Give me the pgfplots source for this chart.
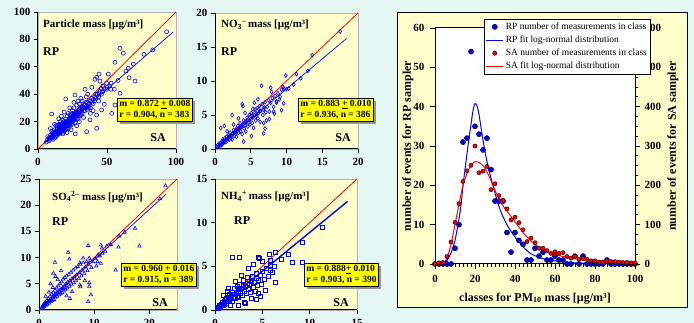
\documentclass[border=0pt]{standalone}
\usepackage{fontspec}
\setmainfont{Liberation Serif}
\usepackage{pgfplots}
\pgfplotsset{compat=1.18}
\definecolor{bgmint}{RGB}{228,247,242}
\definecolor{pyel}{RGB}{255,255,204}
\definecolor{syel}{RGB}{255,255,0}
\definecolor{pblue}{RGB}{0,0,255}
\definecolor{pred}{RGB}{255,0,0}
\definecolor{shad}{RGB}{150,150,150}
\pgfplotsset{
  scat/.style={
    scale only axis, anchor=south west,
    axis lines=left, axis line style={-, line width=1pt, black},
    axis background/.style={fill=pyel, draw=black!30},
    tick align=outside, major tick length=4pt,
    tick style={black, line width=0.8pt},
    tick label style={font=\fontsize{11}{11}\selectfont\bfseries},
    /pgf/number format/assume math mode=true,
    xticklabel style={yshift=-2pt},
  },
  pts/.style={only marks, color=pblue, mark size=2pt, mark options={draw=pblue, line width=0.6pt, fill=none}},
  fitb/.style={pblue, line width=0.7pt},
  fitr/.style={pred, line width=0.8pt},
}
\tikzset{statbox/.style={draw=black, line width=0.6pt, fill=syel,
  preaction={draw=none, fill=shad, transform canvas={xshift=2.5pt, yshift=-2.5pt}},
  align=left, anchor=north west, inner sep=2pt, font=\fontsize{9.5}{11}\selectfont\bfseries},
  ttl/.style={anchor=west, font=\fontsize{11}{11}\selectfont\bfseries, inner sep=0pt},
  big/.style={font=\fontsize{12}{12}\selectfont\bfseries, inner sep=0pt}}
\begin{document}
\begin{tikzpicture}[x=1pt,y=1pt]
\useasboundingbox (0,0) rectangle (694,323);
\fill[bgmint] (0,0) rectangle (694,323);
\clip (0,0) rectangle (694,323);

% ---------- Panel 1: particle mass
\begin{axis}[scat, at={(38pt,174pt)}, width=138pt, height=137pt,
  xmin=0,xmax=100,ymin=0,ymax=100, xtick={0,50,100}, ytick={0,20,...,100}]
\addplot[pts, mark=o] coordinates {
(93.2,85.6)(83.1,72.3)(76.8,69.1)(59.4,73.5)(61.8,69.9)(55.8,63.3)(69.1,62)(65.4,58.9)(63.8,56.9)(70.3,49.6)
(51,54.7)(44.2,54.7)(42.5,52.3)(44.9,49.6)(59.4,40.7)(55.3,43.6)(49.8,43.6)(48,32.6)(34.1,43.6)(26.8,39.4)
(20.1,36.5)(9.9,25.5)(42.5,15.1)(35.3,12.6)(46.1,28.5)(42.5,24.8)(37.7,21.2)(53.4,26)(41.3,50.9)(49.8,48)
(52.9,43.6)(55.8,32.1)(66,52)(58,50)(47,46)(39,45)(36,40)(44,35)(40,28)(27,11)
(6,5)(7,7)(7,9)(8,6)(8,8)(9,7)(9,10)(10,8)(10,11)(10,13)(11,9)(11,12)(12,10)(12,14)(12,8)(13,11)(13,13)(13,17)
(14,12)(14,10)(14,15)(15,13)(15,11)(15,18)(16,14)(16,12)(16,16)(16,20)(17,15)(17,13)(17,18)(18,14)(18,16)(18,21)
(18,11)(19,17)(19,15)(19,20)(20,18)(20,14)(20,22)(20,16)(21,19)(21,17)(21,24)(22,18)(22,20)(22,15)(22,26)(23,21)
(23,19)(23,17)(24,22)(24,20)(24,25)(25,22)(25,18)(25,28)(26,23)(26,21)(26,30)(27,24)(27,22)(27,19)(28,26)(28,23)
(28,32)(29,25)(29,22)(30,27)(30,24)(30,33)(31,28)(31,25)(32,29)(32,26)(32,35)(33,30)(34,28)(34,32)(35,31)(36,29)
(36,34)(37,33)(38,35)(38,30)(40,36)(40,33)(41,38)(42,37)(43,40)(44,38)(45,42)(46,40)(47,42)(48,44)(50,45)(52,46)
(53,48)(24,14)(28,17)(30,20)(33,23)(21,12)(38,26)(35,38)(26,34)(15,22)(12,18)(9,15)(31,37)(29,35)(19,27)(17,24)(23,30)
(9,8)(10,9)(11,10)(11,7)(12,12)(12,11)(13,9)(13,12)(14,13)(14,11)(14,17)(15,14)(15,12)(15,16)(16,15)(16,13)(16,18)
(17,16)(17,14)(17,12)(18,17)(18,15)(18,19)(19,18)(19,16)(19,13)(20,19)(20,17)(20,20)(21,20)(21,18)(21,15)(22,21)
(22,19)(22,17)(23,22)(23,20)(23,25)(24,23)(24,21)(24,18)(25,24)(25,20)(25,26)(26,25)(26,22)(27,26)(27,25)(28,27)
(28,24)(29,28)(29,26)(30,29)(30,26)(31,30)(32,31)(33,28)(33,33)(34,30)(35,34)(36,31)(37,30)(39,37)(39,34)(41,35)
(42,40)(44,41)(46,44)
};
\addplot[fitb] coordinates {(5,4.36)(98,85.46)};
\addplot[fitr] coordinates {(0,0)(100,100)};
\end{axis}

% ---------- Panel 2: NO3
\begin{axis}[scat, at={(215pt,174pt)}, width=143pt, height=136pt,
  xmin=0,xmax=20,ymin=0,ymax=20, xtick={0,5,...,20}, ytick={0,5,...,20}]
\addplot[pts, mark=diamond] coordinates {
(17.5,17.3)(13.6,13.8)(13,11.5)(11.4,11)(9.9,10.8)(9.3,8.7)(9.6,8.9)(10.0,8.8)(10.3,8.9)(9.5,9.1)(6.5,9.3)(7.8,9)
(3.8,6.6)(2.4,5)(0.8,3.1)(1.3,3.4)(5.1,1.9)(6.8,2.3)(7.2,4.2)(9.3,5.7)(9.6,6.7)(8.6,6.8)(4,1.1)(7.9,8.4)(9.1,7.7)
(8.2,5.5)(7,3.0)(3.9,6.3)(5.3,5.9)(11,9.5)(12,10.4)
(0.3,0.3)(0.4,0.6)(0.5,0.4)(0.6,0.8)(0.7,0.5)(0.8,0.9)(0.9,0.6)(1.0,1.1)(1.0,0.7)(1.1,1.4)(1.2,0.9)(1.3,1.2)(1.4,1.6)
(1.5,1.0)(1.5,1.3)(1.6,1.8)(1.7,1.2)(1.8,1.5)(1.9,2.0)(2.0,1.4)(2.0,1.8)(2.1,2.4)(2.2,1.6)(2.3,2.0)(2.4,1.4)(2.5,2.3)
(2.6,2.8)(2.7,1.9)(2.8,2.5)(2.9,2.2)(3.0,3.0)(3.0,1.8)(3.1,2.6)(3.2,3.4)(3.3,2.4)(3.4,2.9)(3.5,3.8)(3.6,2.6)(3.7,3.2)
(3.8,2.2)(3.9,3.6)(4.0,4.2)(4.1,3.0)(4.2,3.5)(4.3,2.6)(4.4,4.0)(4.5,4.6)(4.6,3.3)(4.7,3.9)(4.8,5.0)(4.9,3.6)(5.0,4.4)
(5.1,5.3)(5.2,3.8)(5.3,4.6)(5.4,3.1)(5.5,5.0)(5.6,5.8)(5.7,4.2)(5.8,4.9)(5.9,6.0)(6.0,4.5)(6.1,5.3)(6.2,6.3)(6.3,4.0)
(6.4,5.6)(6.6,6.6)(6.7,5.0)(6.8,5.8)(7.0,6.9)(7.1,5.4)(7.3,6.2)(7.5,7.2)(7.6,5.5)(7.8,6.8)(8.0,7.5)(8.2,6.2)(8.4,7.8)
(8.6,7.0)(8.8,8.2)(9.0,7.3)(5.5,6.8)(4.2,5.3)(3.3,4.5)(6.8,3.8)(7.6,4.4)(1.7,2.6)(2.6,3.6)(8.3,5.2)(6,7.3)
(1.2,1.1)(1.9,1.7)(2.4,2.2)(2.9,2.7)(3.4,3.1)(3.8,3.4)(4.3,3.9)(4.8,4.2)(5.3,4.8)(5.8,5.2)(6.3,5.6)(6.9,6.1)
};
\addplot[fitb] coordinates {(0.3,0.26)(18.4,16.25)};
\addplot[fitr] coordinates {(0,0)(20,20)};
\end{axis}

% ---------- Panel 3: SO4
\begin{axis}[scat, at={(39pt,13pt)}, width=138pt, height=131pt,
  xmin=0,xmax=25,ymin=0,ymax=25, xtick={0,10,20}, ytick={0,5,...,25}]
\addplot[pts, mark=triangle] coordinates {
(22.9,23.7)(21.9,21.2)(17.4,15.6)(14.5,14.1)(18.2,12.2)(14.4,12.0)(11.2,12.4)(8.9,12.3)(9.1,9.9)(13.9,7.6)(5.3,11)
(5.5,9.7)(2.6,7)(9.1,4.5)(9.4,2.9)(8.9,1.6)(5.6,2.2)(7.4,4.8)(10.4,8.4)(12.3,12.2)(11.4,11.8)(2.9,9.1)(9.1,5.2)
(11.2,8.9)(10.7,10.5)(8,9.9)(7.4,9.0)(13,12.5)(15.5,14.8)
(0.5,0.4)(0.6,0.7)(0.7,0.5)(0.8,1.0)(0.9,0.6)(1.0,1.2)(1.0,0.8)(1.1,1.5)(1.2,0.9)(1.3,1.3)(1.4,1.8)(1.5,1.1)(1.6,1.5)
(1.7,2.2)(1.8,1.3)(1.9,1.8)(2.0,2.6)(2.1,1.6)(2.2,2.1)(2.3,3.0)(2.4,1.8)(2.5,2.5)(2.6,3.4)(2.7,2.0)(2.8,2.8)(2.9,3.8)
(3.0,2.3)(3.1,3.1)(3.2,4.2)(3.3,2.6)(3.4,3.4)(3.5,4.6)(3.6,2.9)(3.7,3.7)(3.8,5.0)(3.9,3.1)(4.0,4.0)(4.1,5.4)(4.2,3.3)
(4.3,4.3)(4.4,5.9)(4.5,3.6)(4.6,4.6)(4.7,6.2)(4.8,3.9)(4.9,5.0)(5.0,6.5)(5.1,4.2)(5.2,5.3)(5.4,6.8)(5.5,4.5)(5.6,5.6)
(5.8,7.2)(5.9,4.9)(6.0,6.0)(6.2,7.6)(6.3,5.2)(6.4,6.3)(6.6,8.0)(6.7,5.6)(6.8,6.7)(7.0,8.3)(7.2,6.0)(7.3,7.1)(7.5,8.7)
(7.7,6.5)(7.8,7.6)(8.0,9.0)(8.2,7.0)(8.4,8.2)(8.6,9.2)(8.8,7.5)(9.0,8.7)(9.3,9.5)(9.5,8.1)(9.8,9.2)(10.2,9.8)(10.6,9.2)
(11.0,10.3)(11.5,10.8)(12.0,11.2)(1.8,3.4)(2.5,4.3)(3.4,5.8)(2.1,5.0)(3.0,6.4)(4.0,7.5)(6.0,3.5)(7.5,4.4)(5.0,2.7)
(8.3,5.6)(1.2,2.6)
};
\addplot[fitb] coordinates {(0.5,0.48)(23,22.08)};
\addplot[fitr] coordinates {(0,0)(25,25)};
\end{axis}

% ---------- Panel 4: NH4
\begin{axis}[scat, at={(215pt,13pt)}, width=142pt, height=131pt,
  xmin=0,xmax=15,ymin=0,ymax=15, xtick={0,5,10,15}, ytick={0,5,10,15}]
\addplot[pts, mark=square, mark options={draw=pblue}] coordinates {
(11.3,9.5)(9.2,7.8)(7.7,6.4)(9.2,5.5)(6.4,6.6)(5.8,5.7)(4.6,6)(1.8,6.0)(2.6,6.0)(3.2,0.8)(4.4,1.2)(4.6,1.9)(5.8,4.6)
(8.2,5.5)(5.7,6.4)(4.7,5.9)(7,5.8)
(0.2,0.3)(0.3,0.2)(0.4,0.5)(0.5,0.3)(0.5,0.6)(0.6,0.4)(0.7,0.7)(0.8,0.5)(0.8,0.9)(0.9,0.6)(1.0,1.0)(1.0,0.7)(1.1,1.2)
(1.2,0.8)(1.2,1.4)(1.3,1.0)(1.4,1.5)(1.5,1.1)(1.5,1.8)(1.6,1.3)(1.7,1.6)(1.8,1.0)(1.8,2.0)(1.9,1.5)(2.0,1.8)(2.0,2.5)
(2.1,1.3)(2.2,2.0)(2.3,1.6)(2.3,2.7)(2.4,2.1)(2.5,1.5)(2.6,2.4)(2.6,3.0)(2.7,1.9)(2.8,2.5)(2.9,1.7)(3.0,2.8)(3.0,3.4)
(3.1,2.2)(3.2,2.7)(3.3,1.9)(3.4,3.1)(3.4,3.7)(3.5,2.4)(3.6,2.9)(3.7,2.0)(3.8,3.3)(3.9,3.9)(4.0,2.6)(4.1,3.2)(4.2,2.1)
(4.3,3.6)(4.4,4.2)(4.5,2.8)(4.6,3.4)(4.8,4.0)(4.9,3.0)(5.0,4.4)(5.2,3.5)(5.4,4.8)(5.6,3.9)(5.8,5.1)(6.0,4.3)(6.3,5.0)
(3.5,4.8)(2.8,4.0)(2.1,3.3)(1.4,2.5)(4.0,5.2)(5.0,5.6)(3.8,1.3)(4.8,1.6)(5.3,2.3)(3.1,0.9)(2.4,0.6)(1.6,0.5)(6.4,3.2)
(0.9,1.7)(1.3,2.1)
};
\addplot[pblue, line width=1.4pt] coordinates {(0.2,0.18)(14,12.43)};
\addplot[fitr] coordinates {(0,0)(15,15)};
\end{axis}

% ---------- texts of the scatter panels
\node[ttl] at (43,298) {Particle mass [µg/m³]};
\node[big, anchor=west] at (43,271) {RP};
\node[big, anchor=east] at (166,185) {SA};
\node[statbox] at (117,225) {m = 0.872 \underline{+} 0.008\\r = 0.904, n = 383};

\node[ttl] at (221,298) {NO\textsubscript{3}\textsuperscript{--}\,mass [µg/m³]};
\node[big, anchor=west] at (221,271) {RP};
\node[big, anchor=east] at (351,185) {SA};
\node[statbox] at (298,225) {m = 0.883 \underline{+} 0.010\\r = 0.936, n = 386};

\node[ttl] at (52,126) {SO\textsubscript{4}\textsuperscript{2--}\ mass [µg/m³]};
\node[big, anchor=west] at (52,101) {RP};
\node[big, anchor=east] at (168,20) {SA};
\node[statbox] at (121,60) {m = 0.960 \underline{+} 0.016\\r = 0.915, n = 389};

\node[ttl] at (221,126) {NH\textsubscript{4}\textsuperscript{+}\,mass [µg/m³]};
\node[big, anchor=west] at (234,102) {RP};
\node[big, anchor=east] at (349,20) {SA};
\node[statbox] at (304,60) {m = 0.888\underline{+} 0.010\\r = 0.903, n = 390};

% ---------- right panel
\filldraw[fill=pyel, draw=black, line width=1pt] (397,15) rectangle (687,310);

\begin{axis}[at={(435pt,59pt)}, anchor=south west, scale only axis, width=200pt, height=236pt,
  xmin=0,xmax=100, ymin=0,ymax=60, clip=false,
  axis background/.style={fill=white},
  axis line style={line width=1pt},
  xtick={0,20,...,100}, minor x tick num=9, ytick={0,10,...,60},
  xtick pos=bottom, ytick pos=left,
  tick align=outside, major tick length=5pt, minor tick length=3pt,
  tick style={black, line width=0.8pt},
  tick label style={font=\fontsize{11}{11}\selectfont\bfseries},
  /pgf/number format/assume math mode=true,
  xticklabel style={yshift=-3pt}, yticklabel style={xshift=-2pt},
  xlabel={classes for PM\textsubscript{10} mass [µg/m³]},
  ylabel={number of events for RP sampler},
  label style={font=\fontsize{12}{12}\selectfont\bfseries},
  xlabel style={at={(axis description cs:0.5,-0.145)}, anchor=center},
  ylabel style={at={(axis description cs:-0.135,0.5)}, anchor=center}]
\addplot[only marks, mark=*, mark size=2.6pt, mark options={fill=pblue, draw=black, line width=0.4pt}] coordinates {
(0,0)(2,0)(4,0)(6,0)(8,0)(10,4)(12,10)(14,31)(16,32)(18,54)(20,35)(22,33)(24,29)(26,32)(28,24)(30,16)(32,16)(34,16)
(36,8)(38,3)(40,8)(42,6)(44,5)(46,1)(48,1)(50,4)(52,2)(54,3)(56,1)(58,1)(60,2)(62,1)(64,1)(66,0)(68,0)(70,2)(72,0)
(74,2)(76,0)(78,0)(80,0)(82,0)(84,0)(86,1)(88,0)(90,0)(92,0)(94,0)(96,0)(98,0)(100,0)
};
\addplot[pblue, line width=1pt, smooth] coordinates {
(4,0)(6,0.9)(8,2.8)(10,6)(12,11.5)(13,15)(14,20)(15,24)(16,28)(17,32)(18,35.5)(19,39)(20,40.8)(21,40.2)(22,38)
(24,31.5)(26,26)(28,21.8)(30,18)(32,14.6)(34,12)(36,10)(38,8.3)(40,6.9)(42,5.6)(44,4.4)(46,3.4)(48,2.6)(50,2.1)
(53,1.5)(56,1.1)(60,0.8)(65,0.5)(70,0.3)(80,0.1)(90,0.05)(100,0)
};
\end{axis}

\begin{axis}[at={(435pt,59pt)}, anchor=south west, scale only axis, width=200pt, height=236pt,
  xmin=0,xmax=100, ymin=0,ymax=600, clip=false,
  axis x line=none, axis y line*=right, axis line style={-, line width=1pt},
  ytick={0,100,...,600}, minor y tick num=3,
  tick align=outside, major tick length=5pt, minor tick length=3pt,
  tick style={black, line width=0.8pt},
  tick label style={font=\fontsize{11}{11}\selectfont\bfseries},
  /pgf/number format/assume math mode=true,
  yticklabel style={xshift=1pt},
  ylabel={number of events for SA sampler},
  label style={font=\fontsize{12}{12}\selectfont\bfseries},
  ylabel style={at={(axis description cs:1.19,0.5)}, anchor=center},
  legend style={at={(0.245,1.038)}, anchor=north west, font=\fontsize{9.5}{10}\selectfont,
    draw=black, fill=white, inner sep=1.5pt, row sep=1pt},
  legend cell align=left]
\addlegendimage{only marks, mark=*, mark size=2.6pt, mark options={fill=pblue, draw=black, line width=0.4pt}}
\addlegendentry{RP number of measurements in class}
\addlegendimage{pblue, line width=1pt}
\addlegendentry{RP fit log-normal distribution}
\addplot[only marks, mark=*, mark size=2.1pt, mark options={fill=pred, draw=black, line width=0.4pt}] coordinates {
(0,0)(2,3)(4,4)(6,19)(8,56)(10,106)(12,153)(14,210)(16,237)(18,251)(20,300)(22,232)(24,236)(26,248)(28,189)(30,204)
(32,174)(34,162)(36,140)(38,112)(40,119)(42,105)(44,87)(46,57)(48,66)(50,54)(52,40)(54,40)(56,34)(58,27)(60,31)(62,27)
(64,29)(66,19)(68,15)(70,20)(72,12)(74,14)(76,12)(78,8)(80,8)(82,5)(84,5)(86,8)(88,6)(90,6)(92,5)(94,4)(96,4)(98,3)(100,3)
};
\addlegendentry{SA number of measurements in class}
\addplot[pred, line width=1pt, smooth] coordinates {
(4,0)(6,15)(8,50)(10,100)(12,152)(14,200)(16,230)(18,250)(20,260)(22,258)(24,250)(26,234)(28,212)(30,188)(32,165)
(34,148)(36,134)(38,121)(40,107)(42,94)(44,80)(46,69)(48,59)(50,50)(55,34)(60,24)(65,18)(70,13)(75,9)(80,7)(85,5)
(90,4)(95,3)(100,2)
};
\addlegendentry{SA fit log-normal distribution}
\end{axis}
\end{tikzpicture}
\end{document}
